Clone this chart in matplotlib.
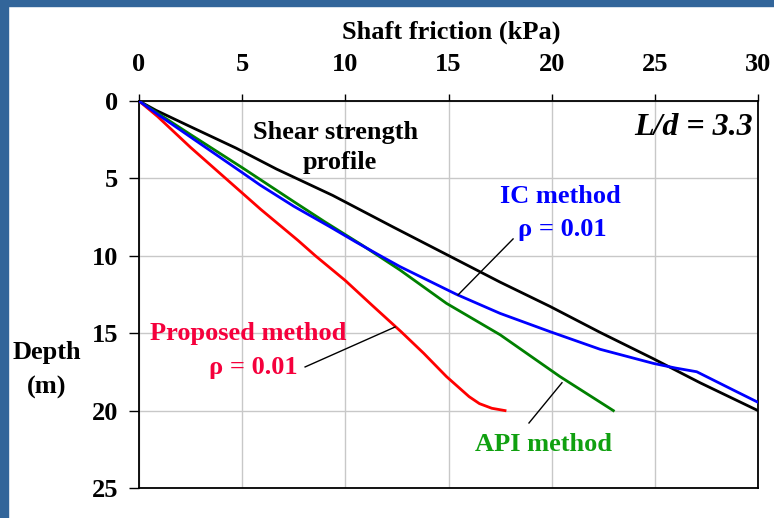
import matplotlib
matplotlib.use("Agg")
import matplotlib.pyplot as plt
from matplotlib.patches import Rectangle

# ---- data ----
shear_x = [0, 0.82, 2.4, 4.7, 6.67, 9.39, 12.33, 15.07, 17.5, 19.92, 22.35, 24.93, 27.19, 30.0]
shear_d = [0, 0.6, 1.6, 3.04, 4.4, 6.1, 8.15, 10.03, 11.7, 13.27, 14.95, 16.65, 18.2, 20.0]

ic_x = [0, 1.0, 2.5, 5.03, 5.87, 7.5, 9.22, 10.5, 11.7, 12.65, 15.4, 17.5, 19.92, 22.35, 24.93, 26.0, 27.03, 28.8, 30.1]
ic_d = [0, 0.95, 2.33, 4.65, 5.43, 6.8, 8.1, 9.1, 10.0, 10.7, 12.5, 13.72, 14.9, 16.04, 16.95, 17.25, 17.49, 18.67, 19.53]

api_x = [0, 1.0, 2.5, 5.03, 7.5, 9.0, 10.8, 12.65, 14.9, 17.5, 20.4, 22.99]
api_d = [0, 0.87, 2.17, 4.33, 6.5, 7.8, 9.3, 10.92, 13.07, 15.1, 17.8, 20.0]

prop_x = [0, 0.9, 2.5, 4.2, 5.9, 7.7, 8.55, 10.0, 11.3, 12.7, 13.8, 14.9, 16.0, 16.5, 17.1, 17.74]
prop_d = [0, 1.0, 3.0, 5.0, 7.0, 9.0, 10.0, 11.6, 13.2, 14.9, 16.3, 17.8, 19.1, 19.55, 19.85, 20.0]

x_ticks = [0, 5, 10, 15, 20, 25, 30]
y_ticks = [0, 5, 10, 15, 20, 25]

plt.rcParams['font.family'] = ['Liberation Serif', 'DejaVu Serif']
plt.rcParams['font.weight'] = 'bold'

fig = plt.figure(figsize=(7.74, 5.18), dpi=100)
W, H = 774, 518
ax = fig.add_axes([139 / W, 1 - 488 / H, (758 - 139) / W, (488 - 101) / H])

ax.plot(shear_x, shear_d, color='black', lw=2.0, zorder=3)
ax.plot(api_x, api_d, color='#008000', lw=2.0, zorder=3)
ax.plot(ic_x, ic_d, color='#0000FF', lw=2.0, zorder=4)
ax.plot(prop_x, prop_d, color='#FF0000', lw=2.0, zorder=3)

ax.set_xlim(0, 30)
ax.set_ylim(25, 0)
ax.set_xticks(x_ticks)
ax.set_yticks(y_ticks)
ax.xaxis.tick_top()
ax.tick_params(axis='x', direction='out', length=5, width=1, pad=13, labelsize=19)
ax.tick_params(axis='y', direction='out', length=7, width=1, pad=8, labelsize=19)
for lab in ax.get_xticklabels() + ax.get_yticklabels():
    lab.set_fontweight('bold')
ax.grid(True, color='#C8C8C8', lw=1.0, zorder=0)
ax.set_axisbelow(True)
for s in ax.spines.values():
    s.set_linewidth(1.3)
    s.set_color('black')

def label(x, y, s, color, **kw):
    ax.text(x, y, s, ha='center', va='center', fontsize=19, fontweight='bold',
            color=color, **kw)

# annotations
label(9.55, 2.06, 'Shear strength', 'black')
label(9.75, 4.0, 'profile', 'black')
ax.text(29.76, 1.74, 'L/d = 3.3', ha='right', va='center', fontsize=23,
        fontweight='bold', style='italic', color='black')
label(20.4, 6.2, 'IC method', '#0000FF')
label(20.5, 8.3, 'ρ = 0.01', '#0000FF')
label(5.3, 15.0, 'Proposed method', '#F5003C')
label(5.55, 17.2, 'ρ = 0.01', '#F5003C')
label(19.58, 22.2, 'API method', '#10A010')

ax.plot([18.13, 15.46], [8.91, 12.53], color='black', lw=1.0, zorder=5)
ax.plot([8.05, 12.41], [17.18, 14.6], color='black', lw=1.0, zorder=5)
ax.plot([18.9, 20.5], [20.8, 18.2], color='black', lw=1.0, zorder=5)

fig.text(451 / W, 1 - 32 / H, 'Shaft friction (kPa)', ha='center', va='center',
         fontsize=19, fontweight='bold')
fig.text(47 / W, 1 - 352 / H, 'Depth', ha='center', va='center',
         fontsize=19, fontweight='bold')
fig.text(47 / W, 1 - 387 / H, '(m)', ha='center', va='center',
         fontsize=19, fontweight='bold')

# blue frame strips
blue = '#32659A'
fig.patches.append(Rectangle((0, 0), 8 / W, 1, transform=fig.transFigure,
                             color=blue, zorder=0))
fig.patches.append(Rectangle((0, 1 - 6 / H), 1, 6 / H, transform=fig.transFigure,
                             color=blue, zorder=0))

fig.savefig('out.png', dpi=100)
